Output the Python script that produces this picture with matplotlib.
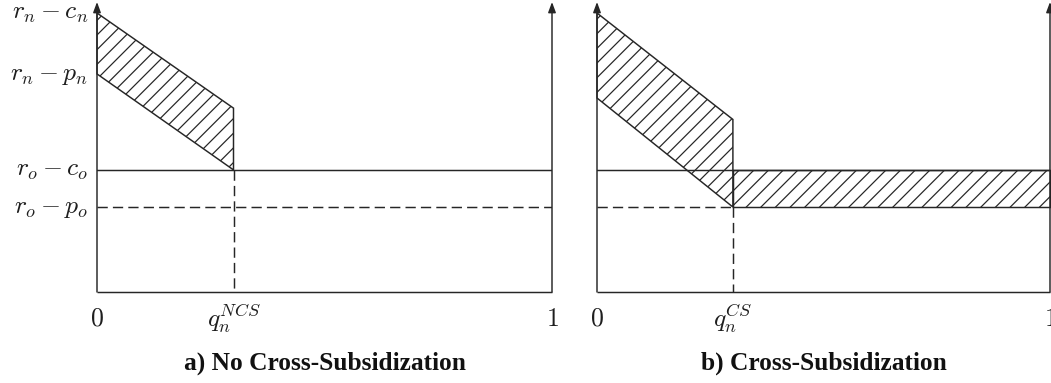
"""Two-panel welfare diagram: no cross-subsidization vs cross-subsidization.

Axes are drawn by hand (arrows on both verticals), hatched areas are polygons
built from the price/cost levels below.
"""
import matplotlib

matplotlib.use("Agg")
import matplotlib.pyplot as plt
from matplotlib.transforms import offset_copy

# ---------------------------------------------------------------------------
# data (levels in arbitrary units, axis top = 10)
# ---------------------------------------------------------------------------
Y_TOP = 10.0
RN_CN = 9.62   # r_n - c_n
RN_PN = 7.52   # r_n - p_n
RO_CO = 4.21   # r_o - c_o
RO_PO = 2.93   # r_o - p_o

Y_TICKS = [RN_CN, RN_PN, RO_CO, RO_PO]
Y_LABELS = [r"$r_n - c_n$", r"$r_n - p_n$", r"$r_o - c_o$", r"$r_o - p_o$"]

Q_NCS = 0.30
NCS_UPPER_END = 6.34   # upper line value at q_n^NCS

Q_CS = 0.30
CS_LOWER_START = 6.69  # lower line value at q = 0
CS_UPPER_END = 5.95    # upper line value at q_n^CS

X_LABELS_A = [r"$0$", r"$q_n^{NCS}$", r"$1$"]
X_LABELS_B = [r"$0$", r"$q_n^{CS}$", r"$1$"]
TITLES = ["a) No Cross-Subsidization", "b) Cross-Subsidization"]

# ---------------------------------------------------------------------------
# style
# ---------------------------------------------------------------------------
DPI = 88
W, H = 1051, 383
INK = "#262626"
LW = 1.2
DASH = (0, (7.0, 3.5))
MATH_SIZE = 21
TITLE_SIZE = 20.8

plt.rcParams["mathtext.fontset"] = "cm"
plt.rcParams["hatch.linewidth"] = 1.0
plt.rcParams["hatch.color"] = INK


def _frame(ax, x_ticks, x_labels, fig):
    ax.set_xlim(0, 1)
    ax.set_ylim(0, Y_TOP)
    ax.axis("off")
    ax.plot([0, 1], [0, 0], color=INK, lw=LW, clip_on=False, solid_capstyle="butt")
    for x in (0, 1):
        ax.annotate(
            "", xy=(x, Y_TOP), xytext=(x, 0), annotation_clip=False,
            arrowprops=dict(arrowstyle="-|>,head_length=0.35,head_width=0.13",
                            mutation_scale=20, color=INK, lw=LW,
                            shrinkA=0, shrinkB=0),
        )
    trans = offset_copy(ax.transData, fig=fig, x=0, y=-34, units="dots")
    for x, lab in zip(x_ticks, x_labels):
        ax.text(x, 0, lab, transform=trans, ha="center", va="baseline",
                fontsize=MATH_SIZE, color="#1e1e1e")


def _hatched(ax, xs, ys):
    ax.fill(xs, ys, facecolor="none", edgecolor=INK, hatch="//", lw=LW,
            clip_on=False)


def main():
    fig = plt.figure(figsize=(W / DPI, H / DPI), dpi=DPI)

    bottom = (H - 292) / H
    height = 290 / H
    ax_a = fig.add_axes([97 / W, bottom, 455 / W, height])
    ax_b = fig.add_axes([597 / W, bottom, 453 / W, height])

    # --- panel a ---------------------------------------------------------
    _hatched(ax_a, [0, Q_NCS, Q_NCS, 0], [RN_CN, NCS_UPPER_END, RO_CO, RN_PN])
    ax_a.plot([0, 1], [RO_CO, RO_CO], color=INK, lw=LW)
    ax_a.plot([0, 1], [RO_PO, RO_PO], color=INK, lw=LW, linestyle=DASH)
    ax_a.plot([Q_NCS, Q_NCS], [RO_CO, 0], color=INK, lw=LW, linestyle=DASH)
    _frame(ax_a, [0, Q_NCS, 1], X_LABELS_A, fig)

    ylab = offset_copy(ax_a.transData, fig=fig, x=-9, y=-6, units="dots")
    for y, lab in zip(Y_TICKS, Y_LABELS):
        ax_a.text(0, y, lab, transform=ylab, ha="right", va="baseline",
                  fontsize=MATH_SIZE, color="#1e1e1e")

    # --- panel b ---------------------------------------------------------
    _hatched(ax_b, [0, Q_CS, Q_CS, 0], [RN_CN, CS_UPPER_END, RO_PO, CS_LOWER_START])
    _hatched(ax_b, [Q_CS, 1, 1, Q_CS], [RO_CO, RO_CO, RO_PO, RO_PO])
    ax_b.plot([0, 1], [RO_CO, RO_CO], color=INK, lw=LW)
    ax_b.plot([0, Q_CS], [RO_PO, RO_PO], color=INK, lw=LW, linestyle=DASH)
    ax_b.plot([Q_CS, Q_CS], [RO_PO, 0], color=INK, lw=LW, linestyle=DASH)
    _frame(ax_b, [0, Q_CS, 1], X_LABELS_B, fig)

    # --- captions --------------------------------------------------------
    for ax, title in zip((ax_a, ax_b), TITLES):
        pos = ax.get_position()
        fig.text(pos.x0 + pos.width / 2, (H - 370) / H, title, ha="center",
                 va="baseline", fontsize=TITLE_SIZE, fontweight="bold",
                 family="Liberation Serif", color="#111111")

    fig.savefig("out.png", dpi=DPI, facecolor="white")
    plt.close(fig)


if __name__ == "__main__":
    main()
